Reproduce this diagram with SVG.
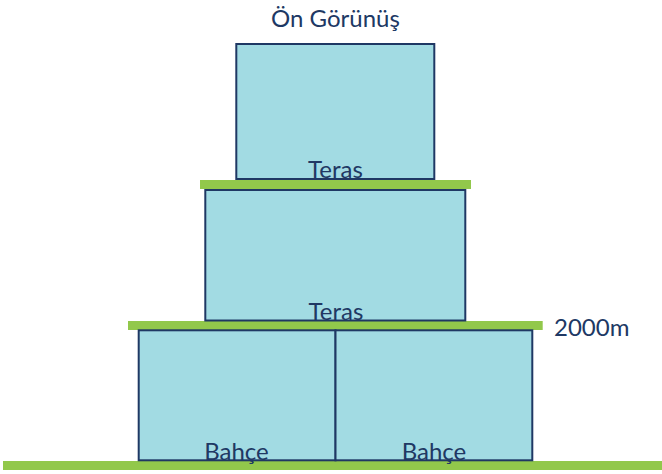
<svg xmlns="http://www.w3.org/2000/svg" width="662" height="474" viewBox="0 0 662 474">
<style>
.box{fill:#a2dbe3;stroke:#1f3864;stroke-width:2}
.bar{fill:#92c84b}
text{font-family:Lato,"Noto Sans",sans-serif;fill:#203864;font-size:24px}
.c{text-anchor:middle}
</style>
<rect width="662" height="474" fill="#ffffff"/>
<g id="connectors">
<rect class="bar" x="200" y="180" width="271" height="9"/>
<rect class="bar" x="128" y="321" width="414.7" height="9"/>
<rect class="bar" x="3" y="461" width="659" height="9"/>
</g>
<text x="335.5" y="27" class="c">Ön Görünüş</text>
<g id="top-floor">
<rect class="box" x="236.3" y="44" width="198" height="135"/>
<text x="335.5" y="178" class="c">Teras</text>
</g>
<g id="middle-floor">
<rect class="box" x="205.3" y="190" width="260" height="130.5"/>
<text x="336" y="320" class="c">Teras</text>
</g>
<g id="bahce-left">
<rect class="box" x="138.7" y="330.3" width="196.8" height="130"/>
<text x="236.5" y="460" class="c">Bahçe</text>
</g>
<g id="bahce-right">
<rect class="box" x="335.5" y="330.3" width="196.8" height="130"/>
<text x="434" y="460" class="c">Bahçe</text>
</g>
<text x="554" y="336">2000m</text>
</svg>
